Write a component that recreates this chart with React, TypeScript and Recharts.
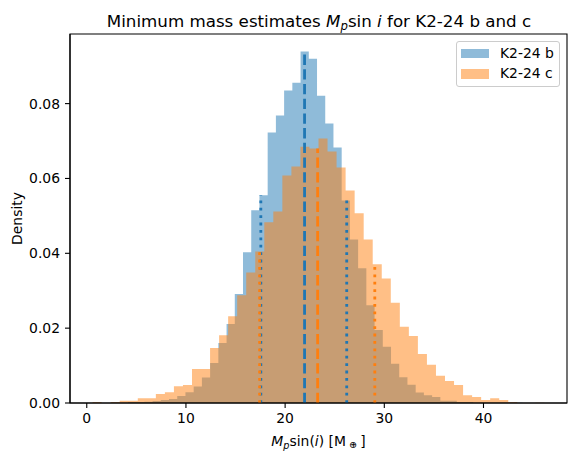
import {
  ComposedChart, Area, XAxis, YAxis, ReferenceLine, ReferenceArea, Legend, Customized,
} from "recharts";

// histogram bins (density per bin)
const bName = "K2-24 b";
const bStart = 2.49;
const bWidth = 0.829;
const bDensity = [
  0.0001, 0, 0.00027, 0.00027, 0.00036, 0.00053, 0.0008, 0.0011, 0.0019, 0.0029,
  0.0044, 0.0068, 0.0107, 0.016, 0.0211, 0.0291, 0.0403, 0.0515, 0.0555, 0.0723,
  0.0768, 0.0835, 0.0856, 0.0939, 0.092, 0.0821, 0.0747, 0.0683, 0.0541, 0.0437,
  0.036, 0.0261, 0.0195, 0.015, 0.0105, 0.0069, 0.0049, 0.0028, 0.0021, 0.0016,
  0.0006, 0.0006, 0.00027, 0.00027, 0, 0, 0, 0, 0, 0.0001,
];
const bQuantiles = [17.55, 21.96, 26.21];

const cName = "K2-24 c";
const cStart = 0.59;
const cWidth = 0.911;
const cDensity = [
  0.0003, 0, 0.0003, 0.0006, 0.0006, 0.0013, 0.0013, 0.0024, 0.0029, 0.0045,
  0.0048, 0.0091, 0.0091, 0.0147, 0.0181, 0.0232, 0.0288, 0.0349, 0.0405, 0.0483,
  0.0512, 0.0608, 0.0632, 0.0685, 0.068, 0.0707, 0.0672, 0.0629, 0.0568, 0.0507,
  0.0437, 0.0371, 0.0333, 0.0268, 0.0204, 0.0179, 0.0131, 0.0102, 0.0073, 0.0059,
  0.0048, 0.0021, 0.0016, 0.0008, 0.0013, 0.0008, 0.0003, 0, 0, 0.0001,
];
const cQuantiles = [17.43, 23.28, 29.04];

const xTicks = [0, 10, 20, 30, 40];
const yTicks = [0, 0.02, 0.04, 0.06, 0.08];
const xDomain = [-1.69, 48.42];
const yDomain = [0, 0.0986];

const BLUE = "#1f77b4";
const ORANGE = "#ff7f0e";
const FONT = "DejaVu Sans";

const toSteps = (start: number, width: number, dens: number[]) => [
  ...dens.map((y, i) => ({ x: start + i * width, y })),
  { x: start + dens.length * width, y: 0 },
];

const heightAt = (x: number, start: number, width: number, dens: number[]) =>
  dens[Math.floor((x - start) / width)] ?? 0;

const bSteps = toSteps(bStart, bWidth, bDensity);
const cSteps = toSteps(cStart, cWidth, cDensity);

const series = [
  { name: bName, color: BLUE },
  { name: cName, color: ORANGE },
];

const LegendBox = () => (
  <div style={{
    position: "relative", boxSizing: "border-box", width: 104, height: 46,
    border: "1px solid #cccccc", borderRadius: 3, background: "rgba(255,255,255,0.8)",
    fontFamily: FONT,
  }}>
    {series.map((s, i) => (
      <div key={s.name} style={{
        position: "absolute", left: 4, top: 1.5 + i * 20.5, height: 20,
        display: "flex", alignItems: "center",
      }}>
        <div style={{ width: 28, height: 9.7, background: s.color, opacity: 0.5 }} />
        <span style={{ marginLeft: 11, fontSize: 13.9, lineHeight: 1, color: "#000" }}>{s.name}</span>
      </div>
    ))}
  </div>
);

const Texts = () => (
  <g fontFamily={FONT} fill="#000">
    <text x={319} y={26.5} textAnchor="middle" fontSize={16.7}>
      <tspan>Minimum mass estimates </tspan>
      <tspan fontStyle="italic">M</tspan>
      <tspan fontStyle="italic" fontSize={11.7} dy={3.5}>p</tspan>
      <tspan dy={-3.5}>sin </tspan>
      <tspan fontStyle="italic">i</tspan>
      <tspan> for K2-24 b and c</tspan>
    </text>
    <text x={318.5} y={446} textAnchor="middle" fontSize={13.9}>
      <tspan fontStyle="italic">M</tspan>
      <tspan fontStyle="italic" fontSize={9.7} dy={3}>p</tspan>
      <tspan dy={-3}>sin(</tspan>
      <tspan fontStyle="italic">i</tspan>
      <tspan>) [M</tspan>
      <tspan fontSize={9.7} dy={2}> ⊕ </tspan>
      <tspan dy={-2}>]</tspan>
    </text>
    <text x={22} y={218.5} textAnchor="middle" fontSize={13.9} transform="rotate(-90 22 218.5)">
      Density
    </text>
  </g>
);

const quantileLines = (qs: number[], start: number, width: number, dens: number[], color: string) =>
  qs.map((q, i) => (
    <ReferenceLine
      key={`${color}-${i}`}
      segment={[{ x: q, y: 0 }, { x: q, y: heightAt(q, start, width, dens) }]}
      stroke={color}
      strokeWidth={2.8}
      strokeDasharray={i === 1 ? "10.3 4.4" : "2.8 4.6"}
      ifOverflow="visible"
    />
  ));

export default function App() {
  return (
    <div style={{ position: "absolute", left: 0, top: 0, width: 576, height: 462, background: "#fff" }}>
      <ComposedChart width={576} height={462} margin={{ top: 34, right: 9, bottom: 0, left: 0 }}>
        <XAxis
          type="number" dataKey="x" domain={xDomain} ticks={xTicks} allowDataOverflow
          height={59} tickSize={5} tickMargin={5} stroke="#000" strokeWidth={1.1}
          tick={{ fontSize: 13.9, fill: "#000", fontFamily: FONT }}
        />
        <YAxis
          type="number" domain={yDomain} ticks={yTicks} allowDataOverflow
          width={70} tickSize={5} tickMargin={5} stroke="#000" strokeWidth={1.1}
          tickFormatter={(v: number) => v.toFixed(2)}
          tick={{ fontSize: 13.9, fill: "#000", fontFamily: FONT }}
        />
        <Area
          data={bSteps} dataKey="y" name={bName} type="stepAfter" baseValue={0}
          stroke="none" fill={BLUE} fillOpacity={0.5} dot={false} activeDot={false}
          isAnimationActive={false}
        />
        <Area
          data={cSteps} dataKey="y" name={cName} type="stepAfter" baseValue={0}
          stroke="none" fill={ORANGE} fillOpacity={0.5} dot={false} activeDot={false}
          isAnimationActive={false}
        />
        {quantileLines(bQuantiles, bStart, bWidth, bDensity, BLUE)}
        {quantileLines(cQuantiles, cStart, cWidth, cDensity, ORANGE)}
        <ReferenceArea
          x1={xDomain[0]} x2={xDomain[1]} y1={yDomain[0]} y2={yDomain[1]}
          fill="none" stroke="#000" strokeWidth={1.1} fillOpacity={0}
        />
        <Legend
          layout="horizontal" verticalAlign="middle" align="center"
          wrapperStyle={{ left: 456, top: 41, width: 104, height: 46 }}
          content={() => <LegendBox />}
        />
        <Customized component={Texts} />
      </ComposedChart>
    </div>
  );
}
